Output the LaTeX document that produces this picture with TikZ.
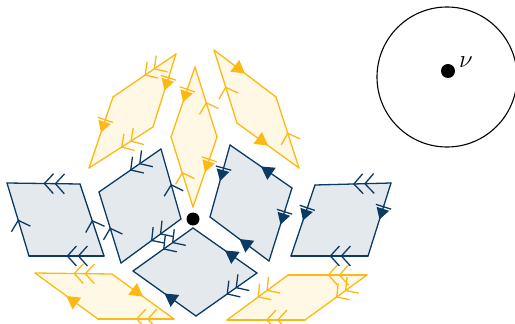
\documentclass[tikz,border=0pt]{standalone}
\usetikzlibrary{arrows.meta,decorations.markings}
\definecolor{ystroke}{HTML}{FDB913}
\definecolor{yfill}{HTML}{FFF8E5}
\definecolor{bstroke}{HTML}{0B3B63}
\definecolor{bfill}{HTML}{E4E9EE}
\tikzset{
  x=1pt,y=-1pt,
  edgeline/.style={line width=1.3pt, line cap=round, line join=round},
  yedge/.style={edgeline, draw=ystroke},
  bedge/.style={edgeline, draw=bstroke},
  yface/.style={fill=yfill, draw=none},
  bface/.style={fill=bfill, draw=none},
  chev/.style={postaction={decorate, decoration={markings, mark=at position 0.5 with {\arrow{Straight Barb[length=5pt,width=11pt,scale=1.8]}}}}},
  dchev/.style={postaction={decorate, decoration={markings, mark=at position 0.5 with {\arrow{Straight Barb[length=5pt,width=11pt,sep=0.5pt,scale=1.8]Straight Barb[length=5pt,width=11pt,scale=1.8]}}}}},
  tri/.style={postaction={decorate, decoration={markings, mark=at position 0.5 with {\arrow{Triangle[length=8pt,width=9pt,scale=1.6]}}}}},
  bartri/.style={postaction={decorate, decoration={markings, mark=at position 0.5 with {\arrow{Bar[width=10pt,sep=1.5pt,scale=1.6]Triangle[length=7pt,width=8pt,scale=1.6]}}}}},
  bigdot/.style={circle, fill=black, inner sep=0pt, minimum size=13pt},
}
\begin{document}
\begin{tikzpicture}
\useasboundingbox (0,0) rectangle (515,324);
% coordinates
\coordinate (a1) at (176,54); \coordinate (a2) at (113,97); \coordinate (a3) at (89,168); \coordinate (a4) at (153,127);
\coordinate (b1) at (195,67); \coordinate (b2) at (217,137); \coordinate (b3) at (193,207); \coordinate (b4) at (171,137);
\coordinate (c1) at (214,50); \coordinate (c2) at (276,97); \coordinate (c3) at (299,168); \coordinate (c4) at (237,123);
\coordinate (d1) at (7,183); \coordinate (d2) at (80,184); \coordinate (d3) at (104,256); \coordinate (d4) at (29,256);
\coordinate (e1) at (161,149); \coordinate (e2) at (99,192); \coordinate (e3) at (121,263); \coordinate (e4) at (181,219);
\coordinate (f1) at (193,228); \coordinate (f2) at (257,273); \coordinate (f3) at (196,316); \coordinate (f4) at (133,271);
\coordinate (g1) at (230,145); \coordinate (g2) at (292,188); \coordinate (g3) at (269,261); \coordinate (g4) at (210,217);
\coordinate (h1) at (315,185); \coordinate (h2) at (391,183); \coordinate (h3) at (368,256); \coordinate (h4) at (291,256);
\coordinate (i1) at (35,273); \coordinate (i2) at (112,274); \coordinate (i3) at (174,319); \coordinate (i4) at (98,319);
\coordinate (j1) at (288,275); \coordinate (j2) at (367,275); \coordinate (j3) at (305,320); \coordinate (j4) at (227,320);
% faces
\fill[yface] (a1)--(a2)--(a3)--(a4)--cycle;
\fill[yface] (b1)--(b2)--(b3)--(b4)--cycle;
\fill[yface] (c1)--(c2)--(c3)--(c4)--cycle;
\fill[yface] (i1)--(i2)--(i3)--(i4)--cycle;
\fill[yface] (j1)--(j2)--(j3)--(j4)--cycle;
\fill[bface] (d1)--(d2)--(d3)--(d4)--cycle;
\fill[bface] (e1)--(e2)--(e3)--(e4)--cycle;
\fill[bface] (f1)--(f2)--(f3)--(f4)--cycle;
\fill[bface] (g1)--(g2)--(g3)--(g4)--cycle;
\fill[bface] (h1)--(h2)--(h3)--(h4)--cycle;
% A
\draw[yedge,dchev] (a1)--(a2);
\draw[yedge,dchev] (a4)--(a3);
\draw[yedge,bartri] (a1)--(a4);
\draw[yedge,bartri] (a2)--(a3);
% B
\draw[yedge,bartri] (b1)--(b4);
\draw[yedge,chev] (b2)--(b1);
\draw[yedge,chev] (b3)--(b4);
\draw[yedge,bartri] (b2)--(b3);
% C
\draw[yedge,tri] (c1)--(c2);
\draw[yedge,tri] (c4)--(c3);
\draw[yedge,chev] (c4)--(c1);
\draw[yedge,chev] (c3)--(c2);
% I
\draw[yedge,dchev] (i2)--(i1);
\draw[yedge,dchev] (i3)--(i4);
\draw[yedge,tri] (i4)--(i1);
\draw[yedge,tri] (i2)--(i3);
% J
\draw[yedge,dchev] (j2)--(j1);
\draw[yedge,dchev] (j3)--(j4);
\draw[yedge,dchev] (j1)--(j4);
\draw[yedge,dchev] (j2)--(j3);
% D
\draw[bedge,dchev] (d2)--(d1);
\draw[bedge,dchev] (d3)--(d4);
\draw[bedge,chev] (d4)--(d1);
\draw[bedge,chev] (d3)--(d2);
% E
\draw[bedge,dchev] (e1)--(e2);
\draw[bedge,dchev] (e4)--(e3);
\draw[bedge,chev] (e3)--(e2);
\draw[bedge,chev] (e4)--(e1);
% F
\draw[bedge,dchev] (f1)--(f4);
\draw[bedge,tri] (f2)--(f1);
\draw[bedge,tri] (f3)--(f4);
\draw[bedge,dchev] (f2)--(f3);
% G
\draw[bedge,tri] (g2)--(g1);
\draw[bedge,tri] (g3)--(g4);
\draw[bedge,bartri] (g1)--(g4);
\draw[bedge,bartri] (g2)--(g3);
% H
\draw[bedge,dchev] (h2)--(h1);
\draw[bedge,dchev] (h3)--(h4);
\draw[bedge,bartri] (h1)--(h4);
\draw[bedge,bartri] (h2)--(h3);
% vertex
\node[bigdot] (v0) at (193,219) {};
% disk
\node[circle, draw=black, line width=1.1pt, minimum size=140pt, inner sep=0pt] (disk) at (447,77) {};
\node[bigdot, minimum size=14pt] (nu) at (448,71) {};
\node[anchor=west, inner sep=0pt, font=\fontsize{28}{28}\selectfont] (nulabel) at (459,62) {$\nu$};
\end{tikzpicture}
\end{document}
